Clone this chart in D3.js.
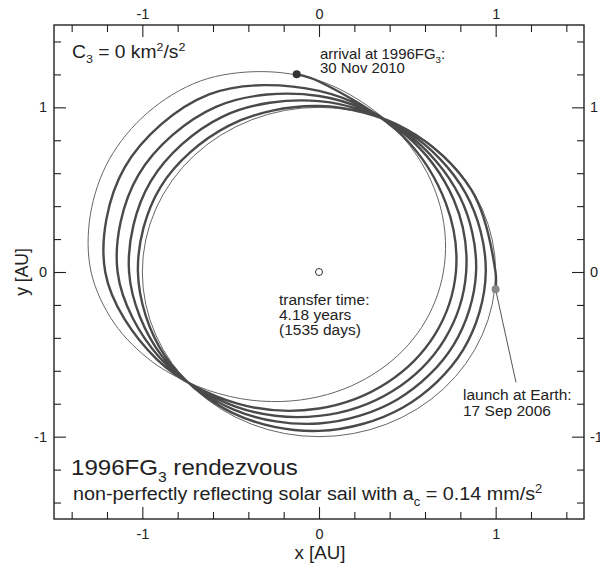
<!DOCTYPE html>
<html>
<head>
<meta charset="utf-8">
<script src="https://cdn.jsdelivr.net/npm/d3@7"></script>
<style>
  body { margin: 0; background: #fff; }
  text { font-family: "Liberation Sans", Arial, sans-serif; fill: #222; white-space: pre; }
</style>
</head>
<body>
<script>
// tick values (AU), same on all four sides
var majorTicks = [-1, 0, 1];
var minorTicks = [-1.4, -1.2, -0.8, -0.6, -0.4, -0.2, 0.2, 0.4, 0.6, 0.8, 1.2, 1.4];

// Earth orbit radius (AU)
var earthRadius = 1.0;

// 1996FG3 orbit: polar angle (deg) and distance from Sun (AU)
var asteroidAngle  = [0, 15, 30, 45, 60, 75, 90, 105, 120, 135, 150, 165,
                      180, 195, 210, 225, 240, 255, 270, 285, 300, 315, 330, 345];
var asteroidRadius = [0.704, 0.741, 0.793, 0.861, 0.947, 1.048, 1.162, 1.26, 1.34, 1.37, 1.37, 1.34,
                      1.29, 1.20, 1.09, 0.979, 0.888, 0.814, 0.757, 0.715, 0.687, 0.673, 0.671, 0.681];

// sail trajectory: cumulative polar angle (deg) from launch to arrival, distance (AU)
var spiralAngle = [-6,
  0, 30, 60, 90, 120, 150, 180, 210, 240, 270, 300, 330,
  360, 390, 420, 450, 480, 510, 540, 570, 600, 630, 660, 690,
  720, 750, 780, 810, 840, 870, 900, 930, 960, 990, 1020, 1050,
  1080, 1110, 1140, 1170, 1200, 1230, 1260, 1290, 1320, 1350, 1380, 1410,
  1440, 1470, 1500, 1530, 1536];
var spiralRadius = [1.005,
  0.999, 0.996, 0.998, 1.008, 1.025, 1.035, 1.025, 1.010, 0.986, 0.965, 0.950, 0.943,
  0.944, 0.958, 0.988, 1.038, 1.090, 1.100, 1.075, 1.025, 0.965, 0.920, 0.892, 0.881,
  0.889, 0.919, 0.978, 1.069, 1.160, 1.180, 1.140, 1.041, 0.944, 0.874, 0.834, 0.820,
  0.833, 0.880, 0.968, 1.100, 1.245, 1.270, 1.210, 1.060, 0.923, 0.829, 0.775, 0.758,
  0.775, 0.830, 0.952, 1.157, 1.208];

// end of the pointer line from the launch dot to its label (AU)
var launchPointer = [1.115, -0.67];

var svg = d3.select("body").append("svg")
    .attr("width", 600)
    .attr("height", 567);

var x = d3.scaleLinear().domain([-1.5, 1.5]).range([54, 584]);
var y = d3.scaleLinear().domain([-1.5, 1.5]).range([519, 25]);

function polar(a, r) {
  var t = a * Math.PI / 180;
  return [r * Math.cos(t), r * Math.sin(t)];
}

/*
  axes: ticks point inward, labels only on the integer ticks
*/
function drawAxis(axisFn, tr, pad) {
  [[minorTicks, 7, false], [majorTicks, 12, true]].forEach(function (s) {
    var ax = axisFn
      .tickValues(s[0])
      .tickSizeInner(-s[1])
      .tickSizeOuter(0)
      .tickPadding(pad)
      .tickFormat(s[2] ? function (d) { return String(d); } : "");
    var g = svg.append("g")
        .attr("transform", tr)
        .call(ax);
    g.select(".domain").remove();
    g.selectAll("line").attr("stroke", "#222").attr("stroke-width", 1.1);
    g.attr("font-size", 14.5).attr("font-family", null);
    g.selectAll("text").attr("fill", "#222");
  });
}
drawAxis(d3.axisBottom(x), "translate(0,519)", 10);
drawAxis(d3.axisTop(x), "translate(0,25)", 6);
drawAxis(d3.axisLeft(y), "translate(54,0)", 7);
drawAxis(d3.axisRight(y), "translate(584,0)", 6);

svg.append("rect")
    .attr("x", x(-1.5)).attr("y", y(1.5))
    .attr("width", x(1.5) - x(-1.5))
    .attr("height", y(-1.5) - y(1.5))
    .attr("fill", "none")
    .attr("stroke", "#222")
    .attr("stroke-width", 1.4);

// thin orbits
svg.append("ellipse")
    .attr("cx", x(0)).attr("cy", y(0))
    .attr("rx", x(earthRadius) - x(0))
    .attr("ry", y(0) - y(earthRadius))
    .attr("fill", "none")
    .attr("stroke", "#666")
    .attr("stroke-width", 1);

var asteroidPts = asteroidAngle.map(function (a, i) { return polar(a, asteroidRadius[i]); });
svg.append("path")
    .datum(asteroidPts)
    .attr("d", d3.line()
      .x(function (d) { return x(d[0]); })
      .y(function (d) { return y(d[1]); })
      .curve(d3.curveCatmullRomClosed.alpha(0.5)))
    .attr("fill", "none")
    .attr("stroke", "#666")
    .attr("stroke-width", 1);

// trajectory
var spiralPts = spiralAngle.map(function (a, i) { return polar(a, spiralRadius[i]); });
svg.append("path")
    .datum(spiralPts)
    .attr("d", d3.line()
      .x(function (d) { return x(d[0]); })
      .y(function (d) { return y(d[1]); })
      .curve(d3.curveCatmullRom.alpha(0.5)))
    .attr("fill", "none")
    .attr("stroke", "#4a4a4a")
    .attr("stroke-width", 2.4);

var launch = spiralPts[0], arrival = spiralPts[spiralPts.length - 1];

svg.append("line")
    .attr("x1", x(launch[0])).attr("y1", y(launch[1]))
    .attr("x2", x(launchPointer[0])).attr("y2", y(launchPointer[1]))
    .attr("stroke", "#555")
    .attr("stroke-width", 1);

svg.append("circle")
    .attr("cx", x(launch[0])).attr("cy", y(launch[1]))
    .attr("r", 4).attr("fill", "#888");
svg.append("circle")
    .attr("cx", x(arrival[0])).attr("cy", y(arrival[1]))
    .attr("r", 4).attr("fill", "#333");
// Sun
svg.append("circle")
    .attr("cx", x(0)).attr("cy", y(0))
    .attr("r", 3.5).attr("fill", "#fff")
    .attr("stroke", "#333").attr("stroke-width", 1);

/*
  labels, with sub/superscripts; the figure is a bit wider than tall so text is stretched too
*/
function richText(px, py, size, parts, anchor, tf) {
  var g = svg.append("g")
      .attr("transform", "translate(" + px + "," + py + ")" + (tf || " scale(1.07,1)"));
  var t = g.append("text")
      .attr("font-size", size)
      .attr("text-anchor", anchor || "start");
  var shift = 0;
  parts.forEach(function (p) {
    var s = typeof p === "string" ? { t: p } : p;
    var target = s.sub ? size * 0.3 : (s.sup ? -size * 0.4 : 0);
    t.append("tspan")
        .attr("dy", target - shift)
        .attr("font-size", (s.sub || s.sup) ? size * 0.65 : size)
        .text(s.t);
    shift = target;
  });
}

richText(72, 58, 18, ["C", { t: "3", sub: true }, " = 0 km", { t: "2", sup: true }, "/s", { t: "2", sup: true }]);
richText(320, 59, 14, ["arrival at 1996FG", { t: "3", sub: true }, ":"]);
richText(320, 73, 14, ["30 Nov 2010"]);
richText(279, 305, 14.5, ["transfer time:"]);
richText(279, 320, 14.5, ["4.18 years"]);
richText(279, 335, 14.5, ["(1535 days)"]);
richText(463, 400, 14.5, ["launch at Earth:"]);
richText(463, 416, 14.5, ["17 Sep 2006"]);
richText(71, 475, 22.5, ["1996FG", { t: "3", sub: true }, " rendezvous"]);
richText(73, 500, 18.5, ["non-perfectly reflecting solar sail with a", { t: "c", sub: true }, " = 0.14 mm/s", { t: "2", sup: true }]);
richText(320, 559, 17.5, ["x [AU]"], "middle");
richText(28, 272, 17.5, ["y [AU]"], "middle", " rotate(-90) scale(1,1.07)");
</script>
</body>
</html>
